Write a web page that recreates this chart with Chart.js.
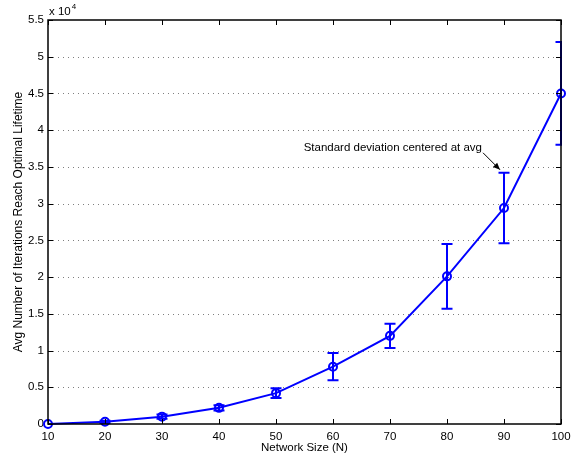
<!DOCTYPE html>
<html>
<head>
<meta charset="utf-8">
<script src="https://cdn.jsdelivr.net/npm/chart.js@4/dist/chart.umd.min.js"></script>
<style>
  html, body { margin: 0; padding: 0; background: #fff; }
  #wrap { width: 579px; height: 455px; }
</style>
</head>
<body>
<div id="wrap"><canvas id="c" width="579" height="455"></canvas></div>
<script>
// ---- Data ----
const networkSizes = [10, 20, 30, 40, 50, 60, 70, 80, 90, 100];
const avgIterations = [0, 300, 1000, 2200, 4200, 7800, 12000, 20100, 29400, 45000];
const stdIterations = [0, 150, 300, 350, 650, 1850, 1650, 4400, 4800, 7000];
const yTickValues = [0, 5000, 10000, 15000, 20000, 25000, 30000, 35000, 40000, 45000, 50000, 55000];
const xTickValues = [10, 20, 30, 40, 50, 60, 70, 80, 90, 100];
const xTitle = 'Network Size (N)';
const yTitle = 'Avg Number of Iterations Reach Optimal Lifetime';
const annotationText = 'Standard deviation centered at avg';
const annotationIndex = 8;

const FONT = 'Liberation Sans, Arial, Helvetica, sans-serif';
const BLUE = '#0000ff';

const matlabPlugin = {
  id: 'matlab',
  beforeDatasetsDraw(chart) {
    const ctx = chart.ctx;
    const a = chart.chartArea;
    const ys = chart.scales.y;
    ctx.save();
    ctx.strokeStyle = '#7f7f7f';
    ctx.lineWidth = 1;
    ctx.setLineDash([1, 4]);
    yTickValues.forEach(v => {
      if (v === 0 || v === 55000) return;
      const y = Math.round(ys.getPixelForValue(v)) + 0.5;
      ctx.beginPath();
      ctx.moveTo(a.left, y);
      ctx.lineTo(a.right, y);
      ctx.stroke();
    });
    ctx.restore();
  },
  afterDatasetsDraw(chart) {
    const ctx = chart.ctx;
    const a = chart.chartArea;
    const xs = chart.scales.x, ys = chart.scales.y;
    // error bars (clipped to chart area)
    ctx.save();
    ctx.beginPath();
    ctx.rect(a.left - 1, a.top - 1, a.right - a.left + 2, a.bottom - a.top + 2);
    ctx.clip();
    ctx.strokeStyle = BLUE;
    ctx.lineWidth = 2;
    networkSizes.forEach((n, i) => {
      const s = stdIterations[i];
      if (!s) return;
      const x = xs.getPixelForValue(n);
      const yt = ys.getPixelForValue(avgIterations[i] + s);
      const yb = ys.getPixelForValue(avgIterations[i] - s);
      const hw = 5.5;
      ctx.beginPath();
      ctx.moveTo(x, yt); ctx.lineTo(x, yb);
      ctx.moveTo(x - hw, yt); ctx.lineTo(x + hw, yt);
      ctx.moveTo(x - hw, yb); ctx.lineTo(x + hw, yb);
      ctx.stroke();
    });
    ctx.restore();

    // axes box and inward ticks
    ctx.save();
    ctx.strokeStyle = '#000';
    ctx.lineWidth = 1.5;
    ctx.strokeRect(a.left, a.top, a.right - a.left, a.bottom - a.top);
    ctx.lineWidth = 1;
    const tl = 5;
    ctx.beginPath();
    xTickValues.forEach(v => {
      const x = Math.round(xs.getPixelForValue(v)) + 0.5;
      ctx.moveTo(x, a.bottom); ctx.lineTo(x, a.bottom - tl);
      ctx.moveTo(x, a.top); ctx.lineTo(x, a.top + tl);
    });
    yTickValues.forEach(v => {
      const y = Math.round(ys.getPixelForValue(v)) + 0.5;
      ctx.moveTo(a.left, y); ctx.lineTo(a.left + tl, y);
      ctx.moveTo(a.right, y); ctx.lineTo(a.right - tl, y);
    });
    ctx.stroke();

    // exponent label
    ctx.fillStyle = '#000';
    ctx.textBaseline = 'alphabetic';
    ctx.textAlign = 'left';
    ctx.font = '11.5px ' + FONT;
    ctx.fillText('x 10', a.left + 1, a.top - 5);
    const w = ctx.measureText('x 10').width;
    ctx.font = '8px ' + FONT;
    ctx.fillText('4', a.left + 1 + w + 1, a.top - 11);

    // annotation
    const tipX = xs.getPixelForValue(networkSizes[annotationIndex]) - 4;
    const tipY = ys.getPixelForValue(avgIterations[annotationIndex] + stdIterations[annotationIndex]) - 3;
    ctx.font = '11.5px ' + FONT;
    ctx.textAlign = 'right';
    ctx.fillText(annotationText, tipX - 18, tipY - 19);
    const sx = tipX - 17, sy = tipY - 17;
    ctx.lineWidth = 1;
    ctx.beginPath();
    ctx.moveTo(sx, sy); ctx.lineTo(tipX, tipY);
    ctx.stroke();
    const ang = Math.atan2(tipY - sy, tipX - sx);
    const hl = 7, hw2 = 3;
    ctx.beginPath();
    ctx.moveTo(tipX, tipY);
    ctx.lineTo(tipX - hl * Math.cos(ang) + hw2 * Math.sin(ang), tipY - hl * Math.sin(ang) - hw2 * Math.cos(ang));
    ctx.lineTo(tipX - hl * Math.cos(ang) - hw2 * Math.sin(ang), tipY - hl * Math.sin(ang) + hw2 * Math.cos(ang));
    ctx.closePath();
    ctx.fill();
    ctx.restore();
  }
};

new Chart(document.getElementById('c'), {
  type: 'line',
  data: {
    datasets: [{
      data: networkSizes.map((n, i) => ({ x: n, y: avgIterations[i] })),
      borderColor: BLUE,
      borderWidth: 2,
      pointRadius: 4,
      pointBorderWidth: 2,
      pointBorderColor: BLUE,
      pointBackgroundColor: 'rgba(0,0,0,0)',
      tension: 0,
      fill: false,
      clip: false
    }]
  },
  options: {
    responsive: false,
    animation: false,
    events: [],
    layout: { padding: { top: 20, right: 18, left: 11, bottom: 0 } },
    plugins: { legend: { display: false }, tooltip: { enabled: false } },
    scales: {
      x: {
        type: 'linear',
        min: 10, max: 100,
        afterBuildTicks(scale) { scale.ticks = xTickValues.map(v => ({ value: v })); },
        grid: { display: false, drawTicks: false },
        border: { display: false },
        ticks: { color: '#000', font: { family: FONT, size: 11.5 }, padding: 6, maxRotation: 0, autoSkip: false },
        title: { display: true, text: xTitle, color: '#000', font: { family: FONT, size: 11.5 }, padding: { top: 1, bottom: 0 } },
        afterFit(scale) { scale.height = 31; }
      },
      y: {
        min: 0, max: 55000,
        afterBuildTicks(scale) { scale.ticks = yTickValues.map(v => ({ value: v })); },
        grid: { display: false, drawTicks: false },
        border: { display: false },
        ticks: {
          color: '#000', font: { family: FONT, size: 11.5 }, padding: 4, autoSkip: false,
          callback: v => String(v / 10000)
        },
        title: { display: true, text: yTitle, color: '#000', font: { family: FONT, size: 12 }, padding: { top: 0, bottom: 0 } },
        afterFit(scale) { scale.width = 37; }
      }
    }
  },
  plugins: [matlabPlugin]
});
</script>
</body>
</html>
